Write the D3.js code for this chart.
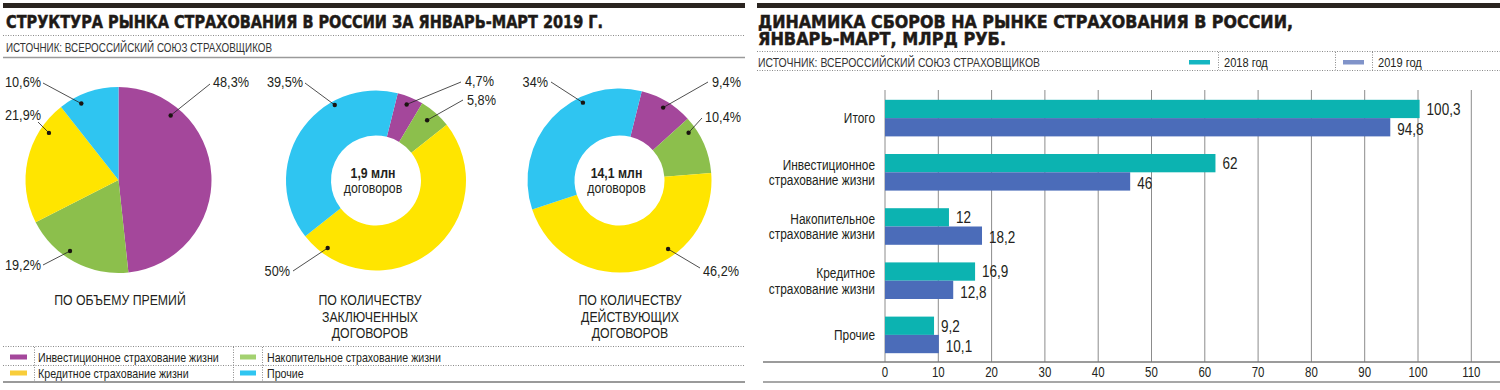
<!DOCTYPE html>
<html>
<head>
<meta charset="utf-8">
<script src="https://cdn.jsdelivr.net/npm/d3@7"></script>
<style>
  body { margin: 0; background: #fff; }
  svg { display: block; }
  text { font-family: "Liberation Sans", Arial, sans-serif; fill: #231f20; }
  .title { font-family: "DejaVu Sans", sans-serif; font-weight: bold; font-size: 17px; fill: #1e1a17; stroke: #1e1a17; stroke-width: 0.5; }
  .source { font-size: 12.5px; fill: #333; }
</style>
</head>
<body>
<svg id="chart" width="1500" height="390"></svg>
<script>
// ---- data ----
const segments = ["Инвестиционное страхование жизни", "Накопительное страхование жизни", "Кредитное страхование жизни", "Прочие"];
const premiumShares = [48.3, 19.2, 21.9, 10.6];
const signedShares = [4.7, 5.8, 50, 39.5];
const activeShares = [9.4, 10.4, 46.2, 34];

const captionPremium = ["ПО ОБЪЕМУ ПРЕМИЙ"];
const captionSigned = ["ПО КОЛИЧЕСТВУ", "ЗАКЛЮЧЕННЫХ", "ДОГОВОРОВ"];
const captionActive = ["ПО КОЛИЧЕСТВУ", "ДЕЙСТВУЮЩИХ", "ДОГОВОРОВ"];
const centerSigned = ["1,9 млн", "договоров"];
const centerActive = ["14,1 млн", "договоров"];

const categories = ["Итого", "Инвестиционное\nстрахование жизни", "Накопительное\nстрахование жизни", "Кредитное\nстрахование жизни", "Прочие"];
const years = ["2018 год", "2019 год"];
const fees2018 = [100.3, 62, 12, 16.9, 9.2];
const fees2019 = [94.8, 46, 18.2, 12.8, 10.1];
const feeTicks = [0, 10, 20, 30, 40, 50, 60, 70, 80, 90, 100, 110];

const leftTitle = "СТРУКТУРА РЫНКА СТРАХОВАНИЯ В РОССИИ ЗА ЯНВАРЬ-МАРТ 2019 Г.";
const rightTitle = ["ДИНАМИКА СБОРОВ НА РЫНКЕ СТРАХОВАНИЯ В РОССИИ,", "ЯНВАРЬ-МАРТ, МЛРД РУБ."];
const sourceText = "ИСТОЧНИК: ВСЕРОССИЙСКИЙ СОЮЗ СТРАХОВЩИКОВ";

// ---- styles ----
const segColors = ["#a4479b", "#8cbf4c", "#ffe500", "#2fc5f1"];
const swatchColors = ["#a4479b", "#a3d170", "#f8cd3a", "#2fc5f1"];
const yearColors = ["#0cb3b1", "#4b6cb9"];
const yearSwatch = ["#14b6c2", "#8093c9"];
const ink = "#2a2420";
const SX = 0.82; // condensed look

const svg = d3.select("#chart");
const fmt = v => String(v).replace(".", ",");

function dotted(x1, y1, x2, y2) {
  svg.append("line").attr("x1", x1).attr("y1", y1).attr("x2", x2).attr("y2", y2)
    .attr("stroke", "#8a8a8a").attr("stroke-width", 1).attr("stroke-dasharray", "1,1.5");
}

// condensed text helper
function txt(x, y, s, size, anchor, weight) {
  return svg.append("text")
    .attr("transform", `translate(${x},${y}) scale(${SX},1)`)
    .attr("dy", "0.35em")
    .attr("text-anchor", anchor || "start")
    .attr("font-size", size)
    .attr("font-weight", weight || null)
    .text(s);
}

// ================= LEFT PANEL =================
svg.append("rect").attr("x", 3).attr("y", 3).attr("width", 742).attr("height", 5).attr("fill", ink);
svg.append("text").attr("class", "title").attr("x", 6).attr("y", 28)
  .attr("textLength", 597).attr("lengthAdjust", "spacingAndGlyphs").text(leftTitle);
dotted(3, 35.5, 745, 35.5);
svg.append("text").attr("class", "source").attr("x", 6).attr("y", 52)
  .attr("textLength", 266).attr("lengthAdjust", "spacingAndGlyphs").text(sourceText);
svg.append("line").attr("x1", 3).attr("x2", 745).attr("y1", 57.5).attr("y2", 57.5)
  .attr("stroke", "#9a9a9a").attr("stroke-width", 1.5);

const pies = [
  { values: premiumShares, cx: 118.5, cy: 180, r: 93, inner: 0, start: 0, caption: captionPremium, capX: 120, center: null,
    labels: [
      { t: 0.224, d: 83, line: [210, 84], text: [213, 82], anchor: "start" },
      { t: 0.585, d: 86, line: [43, 265], text: [41, 265], anchor: "end" },
      { t: 0.775, d: 84, line: [38, 122], text: [41, 115], anchor: "end" },
      { t: 0.32, d: 85, line: [43, 83], text: [41, 82], anchor: "end" }
    ] },
  { values: signedShares, cx: 376, cy: 180.5, r: 90, inner: 45, start: 14, caption: captionSigned, capX: 370, center: centerSigned,
    labels: [
      { t: 0.47, d: 82, line: [461, 82], text: [465, 81], anchor: "start" },
      { t: 0.45, d: 79, line: [463, 100], text: [467, 100], anchor: "start" },
      { t: 0.91, d: 83, line: [293, 271], text: [290, 271], anchor: "end" },
      { t: 0.70, d: 86, line: [305, 83], text: [303, 82], anchor: "end" }
    ] },
  { values: activeShares, cx: 619.5, cy: 180.5, r: 92, inner: 45, start: 14, caption: captionActive, capX: 630, center: centerActive,
    labels: [
      { t: 0.5, d: 85, line: [708, 82], text: [712, 82], anchor: "start" },
      { t: 0.2, d: 84, line: [702, 118], text: [705, 117], anchor: "start" },
      { t: 0.357, d: 84, line: [700, 268], text: [703, 271], anchor: "start" },
      { t: 0.68, d: 86, line: [551, 82], text: [548, 82], anchor: "end" }
    ] }
];

pies.forEach(p => {
  const a0 = p.start * Math.PI / 180;
  const arcs = d3.pie().sort(null).startAngle(a0).endAngle(a0 + 2 * Math.PI)(p.values);
  const arc = d3.arc().innerRadius(p.inner).outerRadius(p.r);
  const g = svg.append("g").attr("transform", `translate(${p.cx},${p.cy})`);
  g.selectAll("path").data(arcs).join("path")
    .attr("d", arc).attr("fill", (d, i) => segColors[i]);

  arcs.forEach((d, i) => {
    const L = p.labels[i];
    const a = d.startAngle + L.t * (d.endAngle - d.startAngle);
    const dx = p.cx + L.d * Math.sin(a), dy = p.cy - L.d * Math.cos(a);
    svg.append("line").attr("x1", dx).attr("y1", dy).attr("x2", L.line[0]).attr("y2", L.line[1])
      .attr("stroke", "#222").attr("stroke-width", 0.8);
    svg.append("circle").attr("cx", dx).attr("cy", dy).attr("r", 2.2).attr("fill", "#1a1410");
    txt(L.text[0], L.text[1], fmt(d.data) + "%", 15.5, L.anchor);
  });

  if (p.center) {
    txt(p.cx - 3, p.cy - 8, p.center[0], 15, "middle", "bold");
    txt(p.cx - 3, p.cy + 7, p.center[1], 15, "middle");
  }
  p.caption.forEach((c, k) => txt(p.capX, 300 + k * 16.5, c, 15, "middle"));
});

// legend (2 x 2)
dotted(3, 346.5, 745, 346.5);
dotted(3, 365.5, 745, 365.5);
svg.append("line").attr("x1", 3).attr("x2", 745).attr("y1", 382).attr("y2", 382)
  .attr("stroke", "#9a9a9a").attr("stroke-width", 2);
[34, 233, 262].forEach(x => dotted(x + 0.5, 347, x + 0.5, 381));
segments.forEach((s, i) => {
  const col = i % 2, row = Math.floor(i / 2);
  const y = 357 + row * 16;
  const sx = col ? 240 : 10, tx = col ? 267 : 38;
  svg.append("rect").attr("x", sx).attr("y", y - 2.5).attr("width", col ? 16 : 17).attr("height", 5).attr("fill", swatchColors[i]);
  txt(tx, y, s, 13);
});

// ================= RIGHT PANEL =================
svg.append("rect").attr("x", 757).attr("y", 3).attr("width", 743).attr("height", 5).attr("fill", ink);
svg.append("text").attr("class", "title").attr("x", 758).attr("y", 28)
  .attr("textLength", 535).attr("lengthAdjust", "spacingAndGlyphs").text(rightTitle[0]);
svg.append("text").attr("class", "title").attr("x", 758).attr("y", 45)
  .attr("textLength", 248).attr("lengthAdjust", "spacingAndGlyphs").text(rightTitle[1]);
dotted(757, 51.5, 1500, 51.5);
dotted(757, 70.5, 1500, 70.5);
svg.append("text").attr("class", "source").attr("x", 758).attr("y", 67)
  .attr("textLength", 282).attr("lengthAdjust", "spacingAndGlyphs").text(sourceText);
[1218, 1335, 1372].forEach(x => dotted(x + 0.5, 52, x + 0.5, 70));
years.forEach((yr, i) => {
  svg.append("rect").attr("x", i ? 1343 : 1189).attr("y", 60).attr("width", 21).attr("height", 4.5).attr("fill", yearSwatch[i]);
  txt(i ? 1378 : 1224, 62, yr, 13.5);
});

const x = d3.scaleLinear().domain([0, 110]).range([885, 1471.3]);
const y = d3.scaleBand().domain(categories).range([91, 362]).paddingInner(0.325).paddingOuter(0.1625);
const ySub = d3.scaleBand().domain(years).range([0, y.bandwidth()]);

svg.append("g").selectAll("line").data(feeTicks).join("line")
  .attr("x1", d => x(d)).attr("x2", d => x(d)).attr("y1", 90).attr("y2", 362)
  .attr("stroke", "#8c8c8c").attr("stroke-width", 1);

const series = [fees2018, fees2019];
series.forEach((vals, s) => {
  svg.append("g").selectAll("rect").data(vals).join("rect")
    .attr("x", x(0)).attr("y", (d, i) => y(categories[i]) + ySub(years[s]))
    .attr("width", d => x(d) - x(0)).attr("height", ySub.bandwidth())
    .attr("fill", yearColors[s]);
  svg.append("g").selectAll("text").data(vals).join("text")
    .attr("transform", (d, i) => `translate(${x(d) + 7},${y(categories[i]) + ySub(years[s]) + ySub.bandwidth() / 2 + (s ? 2 : 0)}) scale(${SX},1)`)
    .attr("dy", "0.35em").attr("font-size", 16.5).text(d => fmt(d));
});

categories.forEach(c => {
  const lines = c.split("\n");
  const cy = y(c) + y.bandwidth() / 2;
  lines.forEach((l, k) => txt(875, cy + (k - (lines.length - 1) / 2) * 15.5, l, 14.5, "end"));
});

svg.append("line").attr("x1", 763).attr("x2", 1500).attr("y1", 362).attr("y2", 362)
  .attr("stroke", "#7a7a7a").attr("stroke-width", 1.5);
svg.append("line").attr("x1", 763).attr("x2", 1500).attr("y1", 382).attr("y2", 382)
  .attr("stroke", "#8a8a8a").attr("stroke-width", 1.5);
svg.append("g").selectAll("text").data(feeTicks).join("text")
  .attr("transform", d => `translate(${x(d)},372) scale(${SX},1)`)
  .attr("dy", "0.35em").attr("text-anchor", "middle")
  .attr("font-size", 14).text(d => d);
</script>
</body>
</html>
